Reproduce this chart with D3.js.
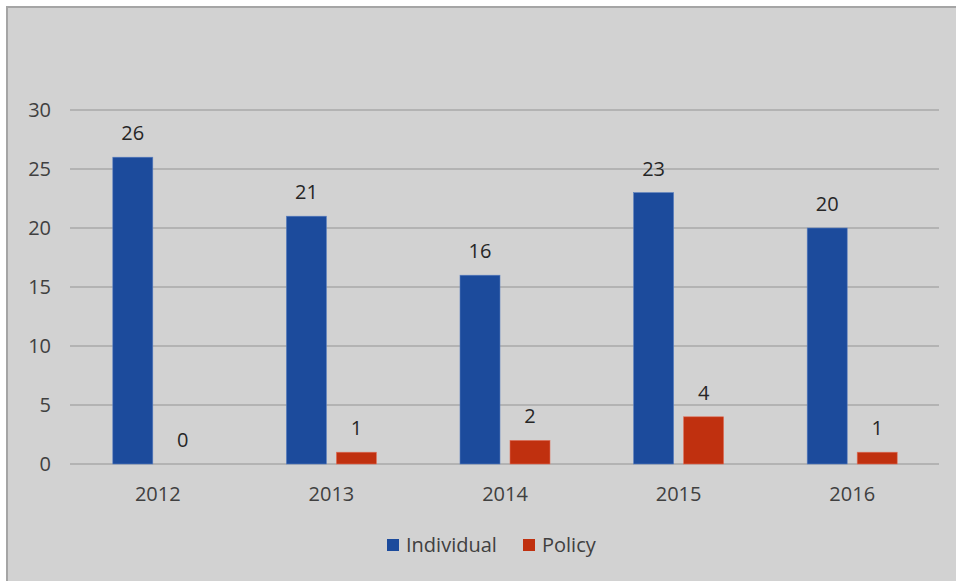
<!DOCTYPE html>
<html>
<head>
<meta charset="utf-8">
<script src="https://cdn.jsdelivr.net/npm/d3@7"></script>
<style>
html,body{margin:0;padding:0;background:#fff;}
svg{display:block;}
</style>
</head>
<body>
<script>
const categories = ["2012","2013","2014","2015","2016"];
const seriesNames = ["Individual","Policy"];
const individual = [26,21,16,23,20];
const policy = [0,1,2,4,1];
const yTicks = [0,5,10,15,20,25,30];
const colors = ["#1c4b9c","#c0300f"];

const W = 956, H = 581;
const font = "'Open Sans','Noto Sans',sans-serif";
const fs = 20;
const svg = d3.select("body").append("svg").attr("width", W).attr("height", H);

// chart frame
svg.append("rect").attr("x", 7).attr("y", 7).attr("width", W).attr("height", H)
  .attr("fill", "#d2d2d2").attr("stroke", "#a5a5a5").attr("stroke-width", 2);

const plot = {left: 71, right: 939, top: 110, bottom: 464};
const x0 = d3.scaleBand().domain(categories).range([plot.left, plot.right]).padding(0);
const x1 = d3.scaleBand().domain(seriesNames)
  .range([x0.bandwidth()/2 - 45, x0.bandwidth()/2 + 45]).paddingInner(0.2);
const y = d3.scaleLinear().domain([0,30]).range([plot.bottom, plot.top]);

// gridlines
svg.append("g").selectAll("line").data(yTicks).join("line")
  .attr("x1", 70).attr("x2", plot.right)
  .attr("y1", d => y(d)).attr("y2", d => y(d))
  .attr("stroke", "#a9a9a9").attr("stroke-width", 1.5);

// y axis labels
const yAxis = d3.axisLeft(y).tickValues(yTicks).tickSize(0).tickPadding(0);
const ga = svg.append("g").attr("transform", `translate(51,0)`).call(yAxis);
ga.select(".domain").remove();
ga.selectAll("text").attr("font-family", font).attr("font-size", fs).attr("fill", "#404040");

// x axis labels
const xAxis = d3.axisBottom(x0).tickSize(0).tickPadding(0);
const gx = svg.append("g").attr("transform", `translate(0,${plot.bottom + 23})`).call(xAxis);
gx.select(".domain").remove();
gx.selectAll("text").attr("font-family", font).attr("font-size", fs).attr("fill", "#404040");

const data = categories.map((c,i) => ({cat: c, vals: [
  {s: seriesNames[0], v: individual[i], c: colors[0]},
  {s: seriesNames[1], v: policy[i], c: colors[1]}
]}));

const groups = svg.append("g").selectAll("g").data(data).join("g")
  .attr("transform", d => `translate(${x0(d.cat)},0)`);

groups.selectAll("rect").data(d => d.vals).join("rect")
  .attr("x", d => x1(d.s)).attr("width", x1.bandwidth())
  .attr("y", d => y(d.v)).attr("height", d => y(0) - y(d.v))
  .attr("fill", d => d.c)
  .attr("stroke", d => d.v > 0 ? (d.s === "Individual" ? "#5a7fbf" : "#e0705a") : "none")
  .attr("stroke-width", 0.6);

groups.selectAll("text").data(d => d.vals).join("text")
  .attr("x", d => x1(d.s) + x1.bandwidth()/2)
  .attr("y", d => y(d.v) - 17)
  .attr("text-anchor", "middle")
  .attr("font-family", font).attr("font-size", fs).attr("fill", "#262626")
  .text(d => d.v);

// legend
const legend = svg.append("g").attr("transform", "translate(387,545)");
const items = [{n: seriesNames[0], c: colors[0], x: 0}, {n: seriesNames[1], c: colors[1], x: 136}];
const li = legend.selectAll("g").data(items).join("g").attr("transform", d => `translate(${d.x},0)`);
li.append("rect").attr("x", 0).attr("y", -6).attr("width", 12).attr("height", 12).attr("fill", d => d.c);
li.append("text").attr("x", 19).attr("y", 0).attr("dy", "0.35em")
  .attr("font-family", font).attr("font-size", fs).attr("fill", "#404040")
  .text(d => d.n);
</script>
</body>
</html>
